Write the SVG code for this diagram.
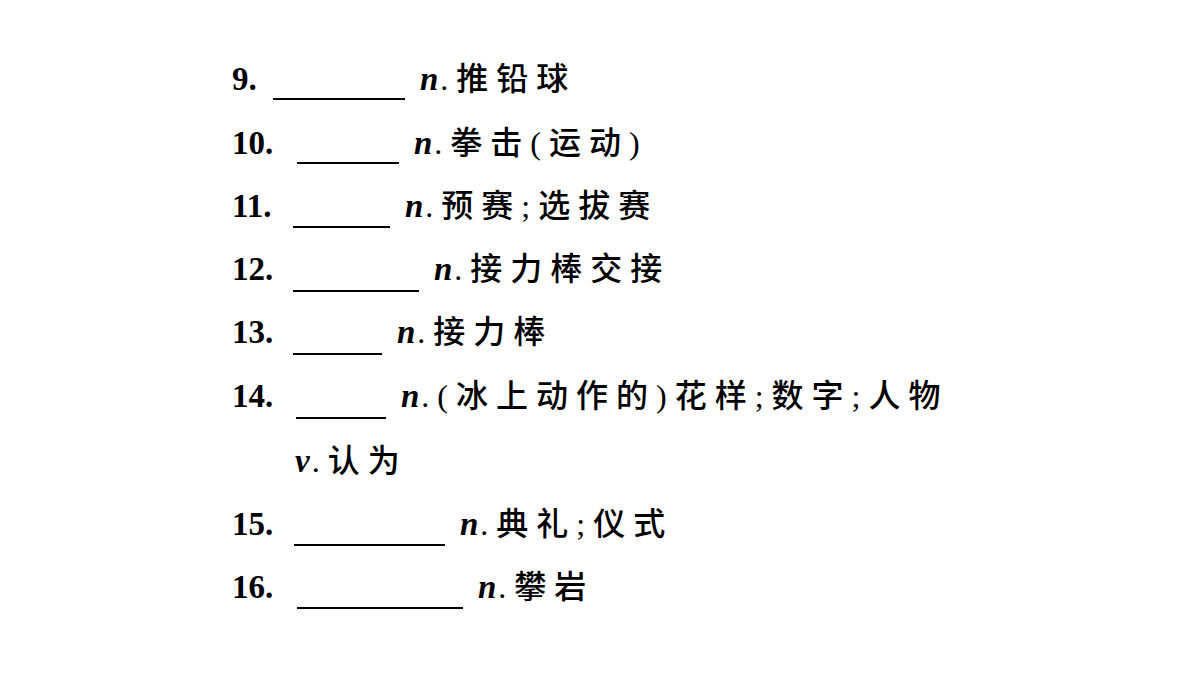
<svg xmlns="http://www.w3.org/2000/svg" width="1200" height="675" viewBox="0 0 1200 675">
<style>
.num{font-family:"Liberation Serif",serif;font-weight:bold;font-size:33px;fill:#000}
.pos{font-family:"Liberation Serif",serif;font-weight:bold;font-style:italic;font-size:33px;letter-spacing:2px}
.zh{font-family:"Liberation Serif","Noto Sans CJK SC",sans-serif;font-size:32px;font-weight:500;letter-spacing:8px;fill:#000}
line{stroke:#000;stroke-width:2}
</style>
<rect width="1200" height="675" fill="#fff"/>
<g id="l9"><text class="num" x="232" y="90">9.</text><line x1="273" y1="99" x2="405" y2="99"/><text class="zh" x="420" y="90"><tspan class="pos">n</tspan>.推铅球</text></g>
<g id="l10"><text class="num" x="232" y="154">10.</text><line x1="297" y1="163" x2="399" y2="163"/><text class="zh" x="414" y="154"><tspan class="pos">n</tspan>.拳击(运动)</text></g>
<g id="l11"><text class="num" x="232" y="217">11.</text><line x1="293" y1="227" x2="390" y2="227"/><text class="zh" x="405" y="217"><tspan class="pos">n</tspan>.预赛;选拔赛</text></g>
<g id="l12"><text class="num" x="232" y="280">12.</text><line x1="293" y1="291" x2="419" y2="291"/><text class="zh" x="434" y="280"><tspan class="pos">n</tspan>.接力棒交接</text></g>
<g id="l13"><text class="num" x="232" y="343">13.</text><line x1="293" y1="354" x2="382" y2="354"/><text class="zh" x="397" y="343"><tspan class="pos">n</tspan>.接力棒</text></g>
<g id="l14"><text class="num" x="232" y="407">14.</text><line x1="296" y1="418" x2="386" y2="418"/><text class="zh" x="401" y="407"><tspan class="pos">n</tspan>.(冰上动作的)花样;数字;人物</text>
<text class="zh" x="295" y="472"><tspan class="pos">v</tspan>.认为</text></g>
<g id="l15"><text class="num" x="232" y="535">15.</text><line x1="294" y1="545" x2="445" y2="545"/><text class="zh" x="460" y="535"><tspan class="pos">n</tspan>.典礼;仪式</text></g>
<g id="l16"><text class="num" x="232" y="598">16.</text><line x1="297" y1="608" x2="463" y2="608"/><text class="zh" x="478" y="598"><tspan class="pos">n</tspan>.攀岩</text></g>
<g id="connectors"/>
</svg>
